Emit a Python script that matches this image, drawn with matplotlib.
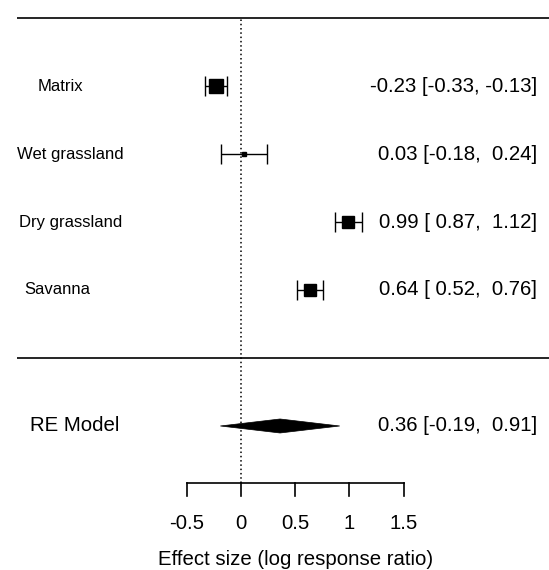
import matplotlib.pyplot as plt

plt.rcParams['font.family'] = ['Liberation Sans', 'DejaVu Sans']

# study rows (top to bottom)
labels = ["Matrix", "Wet grassland", "Dry grassland", "Savanna"]
est = [-0.23, 0.03, 0.99, 0.64]
ci_lo = [-0.33, -0.18, 0.87, 0.52]
ci_hi = [-0.13, 0.24, 1.12, 0.76]

# random-effects summary
re_label = "RE Model"
re_est, re_lo, re_hi = 0.36, -0.19, 0.91

xticks = [-0.5, 0, 0.5, 1, 1.5]
xtick_labels = ["-0.5", "0", "0.5", "1", "1.5"]
xlabel = "Effect size (log response ratio)"

# layout (data units: x = effect size, y = row)
rows = [4, 3, 2, 1]
re_row = -1
square_pt = [10, 3.2, 8.6, 9.2]
label_x = [-1.875, -2.065, -2.045, -1.995]
re_label_x = -1.945
text_x = 2.728
line_left = -2.066
axis_y = -1.84
fs = 14.7


def ci_text(e, lo, hi):
    return f"{e:.2f} [{lo:5.2f}, {hi:5.2f}]"


fig = plt.figure(figsize=(5.49, 5.70), dpi=100)
ax = fig.add_axes([0, 0, 1, 1])
ax.set_xlim(-2.221, 2.839)
ax.set_ylim(-3.118, 5.265)
ax.axis('off')

# horizontal rules
ax.plot([line_left, 2.839], [5, 5], color='black', lw=1.2, solid_capstyle='butt')
ax.plot([line_left, 2.839], [0, 0], color='black', lw=1.2, solid_capstyle='butt')

# null line
ax.plot([0, 0], [axis_y, 5], color='black', lw=1.1, linestyle=(0, (1, 1.8)))

for r, lab, lx, e, lo, hi, ms in zip(rows, labels, label_x, est, ci_lo, ci_hi, square_pt):
    ax.errorbar([e], [r], xerr=[[e - lo], [hi - e]], fmt='none', ecolor='black',
                elinewidth=1, capsize=7, capthick=1)
    ax.plot([e], [r], marker='s', markersize=ms, color='black', linestyle='none')
    ax.text(lx, r, lab, fontsize=12, ha='left', va='center')
    ax.text(text_x, r, ci_text(e, lo, hi), fontsize=fs, ha='right', va='center')

# summary diamond
dh = 0.103
ax.fill([re_lo, re_est, re_hi, re_est], [re_row, re_row + dh, re_row, re_row - dh],
        color='black', lw=0.5)
ax.text(re_label_x, re_row, re_label, fontsize=fs, ha='left', va='center')
ax.text(text_x, re_row, ci_text(re_est, re_lo, re_hi), fontsize=fs, ha='right', va='center')

# x axis drawn by hand (forest-plot style)
ax.plot([xticks[0], xticks[-1]], [axis_y, axis_y], color='black', lw=1.2)
for t, tl in zip(xticks, xtick_labels):
    ax.plot([t, t], [axis_y, axis_y - 0.19], color='black', lw=1.2)
    ax.text(t, -2.43, tl, fontsize=fs, ha='center', va='center')
ax.text(0.5, -2.97, xlabel, fontsize=fs, ha='center', va='center')

fig.savefig('out.png', dpi=100)
